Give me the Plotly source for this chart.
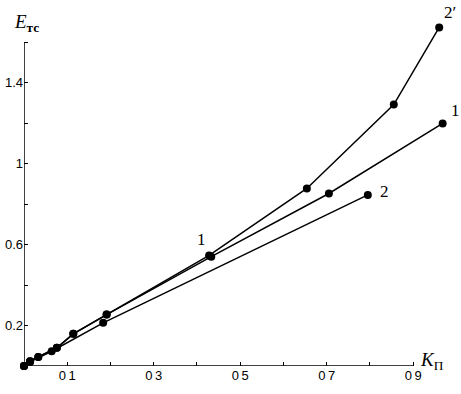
import plotly.graph_objects as go

# Data
x_2p = [0, 0.014, 0.033, 0.076, 0.114, 0.191, 0.428, 0.654, 0.855, 0.960]
y_2p = [0, 0.024, 0.045, 0.090, 0.159, 0.254, 0.546, 0.877, 1.291, 1.672]

x_1 = [0, 0.014, 0.033, 0.076, 0.114, 0.191, 0.433, 0.705, 0.968]
y_1 = [0, 0.024, 0.045, 0.090, 0.159, 0.254, 0.540, 0.852, 1.198]

x_2 = [0, 0.014, 0.064, 0.183, 0.795]
y_2 = [0, 0.020, 0.073, 0.213, 0.845]

x_tickvals = [0.1, 0.2, 0.3, 0.4, 0.5, 0.6, 0.7, 0.8, 0.9]
x_ticktext = ["0\u20091", "", "0\u20093", "", "0\u20095", "", "0\u20097", "", "0\u20099"]
y_tickvals = [0.2, 0.4, 0.6, 0.8, 1.0, 1.2, 1.4, 1.6]
y_ticktext = ["0.2", "", "0.6", "", "1", "", "1.4", ""]

fig = go.Figure()
for xs, ys in [(x_2, y_2), (x_1, y_1), (x_2p, y_2p)]:
    fig.add_trace(go.Scatter(x=xs, y=ys, mode="lines+markers",
                             line=dict(color="black", width=1.5),
                             marker=dict(color="black", size=8),
                             showlegend=False, cliponaxis=False, hoverinfo="skip"))

# axis lines
fig.add_shape(type="line", x0=0, y0=0, x1=0.9, y1=0, line=dict(color="black", width=1.5))
fig.add_shape(type="line", x0=0, y0=0, x1=0, y1=1.6, line=dict(color="black", width=1.5))

serif = "Liberation Serif"
W, H = 426.0, 361.0
def px(xp, yp):
    return (xp - 24) / W, (366 - yp) / H

# (pixel x, pixel y, text, size, xanchor)
ann = [
    (12, 23, "<i>E</i><sub><b>тс</b></sub>", 19, "left"),
    (418, 361, "<i>K</i><sub>П</sub>", 19, "left"),
    (450, 12, "2′", 17, "center"),
    (455, 111, "1", 17, "center"),
    (384, 191, "2", 17, "center"),
    (201, 239, "1", 17, "center"),
]
for xp, yp, t, s, xa in ann:
    ax, ay = px(xp, yp)
    fig.add_annotation(x=ax, y=ay, xref="paper", yref="paper", text=t, showarrow=False,
                       xanchor=xa, yanchor="middle",
                       font=dict(family=serif, size=s, color="black"))

fig.update_xaxes(range=[0, 0.985], showgrid=False, zeroline=False, showline=False,
                 automargin=False,
                 tickmode="array", tickvals=x_tickvals, ticktext=x_ticktext,
                 ticks="inside", ticklen=4, tickcolor="black", tickwidth=1,
                 tickfont=dict(family="Liberation Sans", size=13, color="black"))
fig.update_yaxes(range=[0, 1.783], showgrid=False, zeroline=False, showline=False,
                 automargin=False,
                 tickmode="array", tickvals=y_tickvals, ticktext=y_ticktext,
                 ticks="inside", ticklen=4, tickcolor="black", tickwidth=1,
                 tickfont=dict(family="Liberation Sans", size=13, color="black"))

fig.update_layout(width=461, height=394, margin=dict(l=24, r=11, t=5, b=28),
                  plot_bgcolor="white", paper_bgcolor="white", hovermode=False)

fig.write_html("out.html", config={"displayModeBar": False},
               post_script="document.body.style.margin='0';document.body.style.overflow='hidden';")
